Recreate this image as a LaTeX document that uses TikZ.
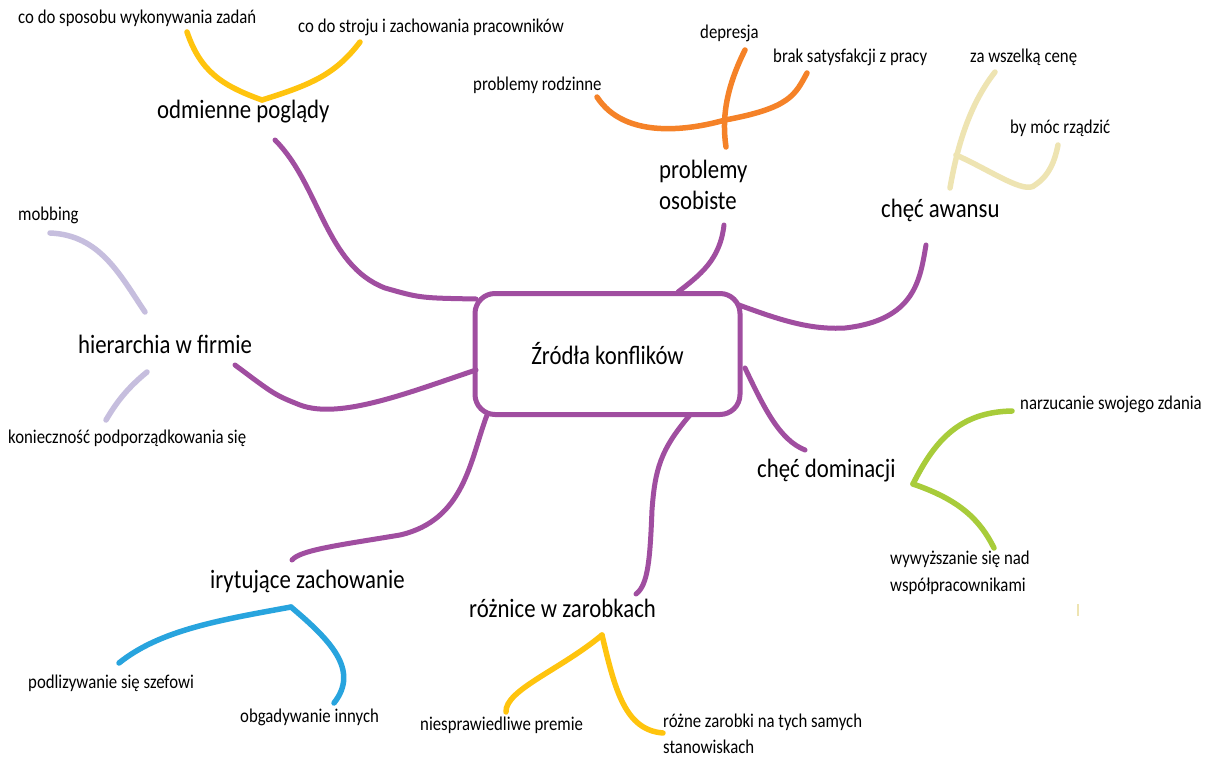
\documentclass[tikz,border=0pt]{standalone}
\usepackage{fontspec}
\setmainfont{Carlito}[FakeStretch=0.86]
\definecolor{cpurple}{RGB}{160,78,160}
\definecolor{cgold}{RGB}{255,196,14}
\definecolor{corange}{RGB}{245,130,40}
\definecolor{cbeige}{RGB}{238,228,178}
\definecolor{clav}{RGB}{198,190,222}
\definecolor{cgreen}{RGB}{168,204,58}
\definecolor{cblue}{RGB}{40,164,222}
\begin{document}
\begin{tikzpicture}[x=1pt,y=-1pt,
  small/.style={font=\fontsize{19.5}{27}\selectfont, anchor=west, inner sep=0pt, align=left},
  main/.style={font=\fontsize{26.5}{31}\selectfont, anchor=west, inner sep=0pt, align=left},
  trunk/.style={draw=cpurple, line width=5pt, line cap=round},
  twig/.style={line width=5.5pt, line cap=round}]
\useasboundingbox (0,0) rectangle (1227,760);
\fill[white] (0,0) rectangle (1227,760);
% central node
\node[draw=cpurple, line width=5pt, rounded corners=20pt, minimum width=265pt, minimum height=121pt,
  font=\fontsize{26.5}{30}\selectfont] (root) at (607.5,354) {Źródła konflików};
% main topics
\node[main] (odm) at (157,112) {odmienne poglądy};
\node[main] (hier) at (78,344) {hierarchia w firmie};
\node[main] (osob) at (659,185) {problemy\\osobiste};
\node[main] (awans) at (881,210) {chęć awansu};
\node[main] (domin) at (757,471) {chęć dominacji};
\node[main] (zarob) at (469,608) {różnice w zarobkach};
\node[main] (iryt) at (210,582) {irytujące zachowanie};
% sub labels
\node[small] (s1) at (18,18) {co do sposobu wykonywania zadań};
\node[small] (s2) at (298,27) {co do stroju i zachowania pracowników};
\node[small] (s3) at (700,33) {depresja};
\node[small] (s4) at (773,57) {brak satysfakcji z pracy};
\node[small] (s5) at (473,85) {problemy rodzinne};
\node[small] (s6) at (970,57) {za wszelką cenę};
\node[small] (s7) at (1010,128) {by móc rządzić};
\node[small] (s8) at (18,215) {mobbing};
\node[small] (s9) at (8,438) {konieczność podporządkowania się};
\node[small] (s10) at (1020,404) {narzucanie swojego zdania};
\node[small] (s11) at (890,573) {wywyższanie się nad\\współpracownikami};
\node[small] (s12) at (28,683) {podlizywanie się szefowi};
\node[small] (s13) at (240,717) {obgadywanie innych};
\node[small] (s14) at (420,725) {niesprawiedliwe premie};
\node[small, font=\fontsize{19.5}{26}\selectfont] (s15) at (663,734) {różne zarobki na tych samych\\stanowiskach};
% coordinates
\coordinate (r1) at (476,299);
\coordinate (r2) at (476,370);
\coordinate (r3) at (678,292);
\coordinate (r4) at (739,305);
\coordinate (r5) at (745,368);
\coordinate (r6) at (690,415);
\coordinate (r7) at (487,415);
\coordinate (e1) at (275,140);
\coordinate (e2) at (235,365);
\coordinate (e3) at (724,225);
\coordinate (e4) at (926,245);
\coordinate (e5) at (805,450);
\coordinate (e6) at (636,594);
\coordinate (e7) at (292,560);
% purple trunks
\draw[trunk] (e1) .. controls (320,185) and (325,265) .. (385,288) .. controls (420,298) .. (r1);
\draw[trunk] (r2) .. controls (410,392) and (340,420) .. (300,405) .. controls (275,395) .. (e2);
\draw[trunk] (e3) .. controls (720,260) and (700,275) .. (r3);
\draw[trunk] (r4) .. controls (780,320) and (810,330) .. (845,328) .. controls (915,320) and (920,280) .. (e4);
\draw[trunk] (r5) .. controls (765,410) and (780,440) .. (e5);
\draw[trunk] (r6) .. controls (660,450) and (655,470) .. (652,510) .. controls (650,560) and (648,585) .. (e6);
\draw[trunk] (r7) .. controls (470,460) and (465,520) .. (400,535) .. controls (340,545) and (300,550) .. (e7);
% gold (odmienne)
\coordinate (g0) at (262,100);
\draw[twig, draw=cgold] (187,32) .. controls (200,70) and (220,85) .. (g0);
\draw[twig, draw=cgold] (g0) .. controls (310,85) and (335,75) .. (360,42);
% orange (osobiste)
\coordinate (o0) at (725,120);
\draw[twig, draw=corange] (597,97) .. controls (625,140) and (690,130) .. (o0) .. controls (790,108) and (795,95) .. (807,73);
\draw[twig, draw=corange] (745,50) .. controls (725,90) and (722,120) .. (726,147);
% beige (awans)
\coordinate (b0) at (956,155);
\draw[twig, draw=cbeige] (995,72) .. controls (965,110) and (955,160) .. (950,188);
\draw[twig, draw=cbeige] (b0) .. controls (990,170) and (1025,195) .. (1035,185) .. controls (1050,175) and (1055,160) .. (1058,145);
% lavender (hierarchia)
\draw[twig, draw=clav] (50,233) .. controls (100,235) and (120,275) .. (145,312);
\draw[twig, draw=clav] (147,372) .. controls (125,390) and (115,405) .. (106,420);
% green (dominacja)
\coordinate (gr0) at (913,484);
\draw[twig, draw=cgreen] (1012,411) .. controls (960,412) and (935,440) .. (gr0);
\draw[twig, draw=cgreen] (gr0) .. controls (960,500) and (980,520) .. (994,548);
% blue (irytujace)
\coordinate (bl0) at (291,607);
\draw[twig, draw=cblue] (bl0) .. controls (220,620) and (160,630) .. (119,663);
\draw[twig, draw=cblue] (bl0) .. controls (330,640) and (360,670) .. (334,703);
% gold (zarobki)
\coordinate (z0) at (602,635);
\draw[twig, draw=cgold] (z0) .. controls (560,670) and (505,690) .. (506,712);
\draw[twig, draw=cgold] (z0) .. controls (615,690) and (625,730) .. (663,733);
% faint tick
\draw[cbeige, line width=1.2pt] (1078,604) -- (1078,616);
\end{tikzpicture}
\end{document}
